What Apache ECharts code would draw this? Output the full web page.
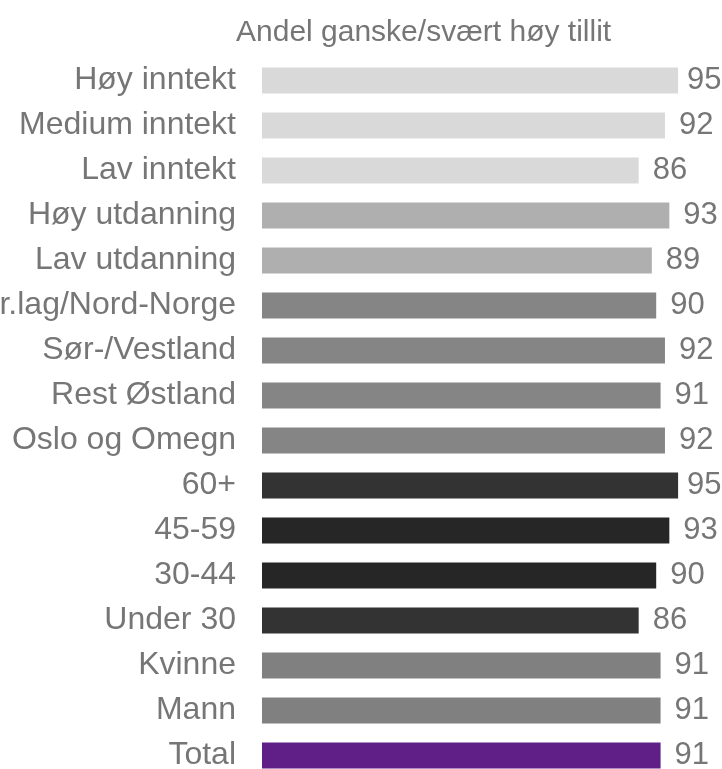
<!DOCTYPE html>
<html>
<head>
<meta charset="utf-8">
<script src="https://cdn.jsdelivr.net/npm/echarts@6/dist/echarts.min.js"></script>
<style>
  html, body { margin: 0; padding: 0; background: #fff; }
  #chart { width: 722px; height: 769px; }
</style>
</head>
<body>
<div id="chart"></div>
<script>
// data, top to bottom
const categories = [
  "Høy inntekt", "Medium inntekt", "Lav inntekt",
  "Høy utdanning", "Lav utdanning",
  "Tr.lag/Nord-Norge", "Sør-/Vestland", "Rest Østland", "Oslo og Omegn",
  "60+", "45-59", "30-44", "Under 30",
  "Kvinne", "Mann", "Total"
];
const values = [95, 92, 86, 93, 89, 90, 92, 91, 92, 95, 93, 90, 86, 91, 91, 91];

// colours per bar (by group)
const barColors = [
  "#d9d9d9", "#d9d9d9", "#d9d9d9",
  "#afafaf", "#afafaf",
  "#858585", "#858585", "#858585", "#858585",
  "#333333", "#262626", "#262626", "#333333",
  "#808080", "#808080",
  "#5f1f87"
];

const chart = echarts.init(document.getElementById("chart"));
chart.setOption({
  animation: false,
  title: {
    text: "Andel ganske/svært høy tillit",
    left: 231,
    top: 13,
    textStyle: {
      fontFamily: "Liberation Sans",
      fontWeight: "normal",
      fontSize: 30,
      color: "#767676",
    },
  },
  grid: {
    left: 262,
    right: 22,
    top: 58,
    bottom: -9,
    containLabel: false,
    outerBoundsMode: "none",
  },
  xAxis: {
    type: "value",
    min: 0,
    max: 100,
    show: false,
  },
  yAxis: {
    type: "category",
    inverse: true,
    data: categories,
    axisLine: { show: false },
    axisTick: { show: false },
    axisLabel: {
      margin: 26,
      fontFamily: "Liberation Sans",
      fontSize: 32,
      color: "#767676",
    },
  },
  series: [
    {
      type: "bar",
      barWidth: 26,
      data: values.map((v, i) => ({
        value: v,
        itemStyle: { color: barColors[i] },
        // the longest bars have their label pulled in a bit, as in the source
        label: { distance: v >= 95 ? 9 : 14 },
      })),
      label: {
        show: true,
        position: "right",
        fontFamily: "Liberation Sans",
        fontSize: 31,
        color: "#767676",
      },
    },
  ],
});
</script>
</body>
</html>
